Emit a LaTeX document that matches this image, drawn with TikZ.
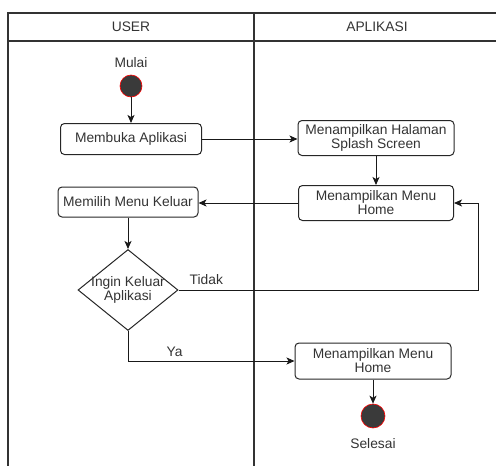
\documentclass[tikz,border=0pt]{standalone}
\usepackage{fontspec}
\setmainfont{Liberation Sans}
\usetikzlibrary{shapes.geometric, arrows.meta, calc, positioning}
\definecolor{inkgray}{HTML}{333333}
\definecolor{dotfill}{HTML}{3A3A3A}
\tikzstyle{lane} = [rectangle, draw=black!80, line width=1.2pt, outer sep=0pt, text=inkgray]
\tikzstyle{activity} = [rectangle, rounded corners=4pt, line width=1pt, draw=black!85, text=inkgray, align=center, inner sep=2pt]
\tikzstyle{decision} = [diamond, line width=1pt, draw=black!85, minimum width=100pt, minimum height=81pt, inner sep=0pt]
\tikzstyle{terminal} = [circle, fill=dotfill, draw=red, line width=0.6pt, inner sep=0pt]
\tikzstyle{plain} = [text=inkgray, align=center, inner sep=1pt]
\tikzstyle{arrow} = [line width=1pt, draw=black!90, -{Stealth[length=8pt, width=7pt, inset=2pt]}]

\begin{document}
\begin{tikzpicture}[x=1pt, y=-1pt, node distance=10pt, font=\fontsize{13.8}{14}\selectfont]
	\useasboundingbox (0,0) rectangle (496,466);
	% swimlanes
	\node (UserHead) [lane, minimum width=246pt, minimum height=28pt] at (131,27) {USER};
	\node (AppHead) [lane, minimum width=246pt, minimum height=28pt, right=0pt of UserHead] {APLIKASI};
	\node (UserLane) [lane, minimum width=246pt, minimum height=440pt, below=0pt of UserHead] {};
	\node (AppLane) [lane, minimum width=246pt, minimum height=440pt, below=0pt of AppHead] {};
	% activities
	\node (Start) [terminal, minimum size=22pt] at (131,86) {};
	\node (Mulai) [plain, above=6pt of Start] {Mulai};
	\node (Membuka) [activity, minimum width=141pt, minimum height=31pt] at (131,139) {Membuka Aplikasi};
	\node (Splash) [activity, minimum width=156pt, minimum height=35pt] at (376,138) {Menampilkan Halaman\\Splash Screen};
	\node (Home) [activity, minimum width=155pt, minimum height=35pt] at (376,203) {Menampilkan Menu\\Home};
	\node (Memilih) [activity, minimum width=140pt, minimum height=30pt] at (128,202) {Memilih Menu Keluar};
	\node (Decision) [decision] at (128,290) {};
	\node (DecisionText) [plain] at (Decision.center) {Ingin Keluar\\Aplikasi};
	\node (Akhir) [activity, minimum width=156pt, minimum height=36pt] at (373,361) {Menampilkan Menu\\Home};
	\node (End) [terminal, minimum size=24pt] at (373,416) {};
	\node (Selesai) [plain, below=9pt of End] {Selesai};
	\coordinate (LoopRight) at (478,250);
	% flows
	\draw [arrow] (Start) -- (Membuka);
	\draw [arrow] (Membuka.east) -- (Membuka.east -| Splash.west);
	\draw [arrow] (Splash) -- (Home);
	\draw [arrow] (Home.west) -- (Home.west -| Memilih.east);
	\draw [arrow] (Memilih) -- (Decision);
	\draw [arrow] (Decision.east) -- node[plain, pos=0.093, above=4pt] {Tidak} (Decision.east -| LoopRight) |- (Home.east);
	\draw [arrow] (Decision.south) |- node[plain, pos=0.64, above=3pt] {Ya} (Akhir.west);
	\draw [arrow] (Akhir) -- (End);
\end{tikzpicture}
\end{document}
